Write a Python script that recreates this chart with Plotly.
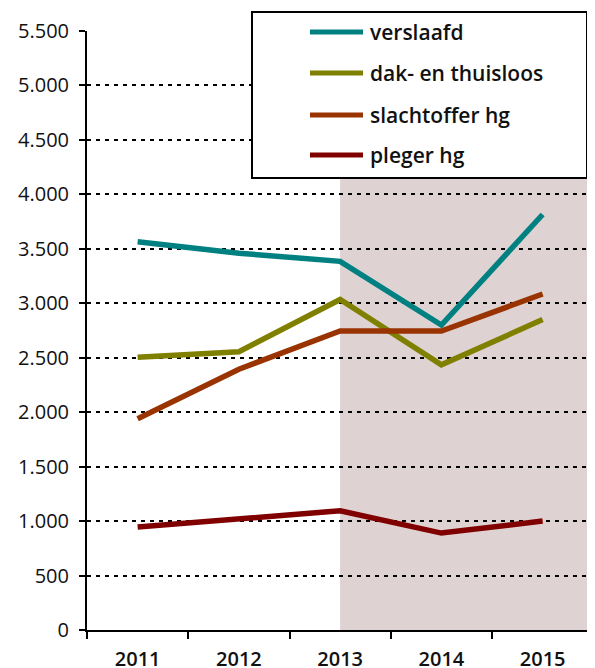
import plotly.graph_objects as go

years = ["2011", "2012", "2013", "2014", "2015"]
verslaafd = [3565, 3460, 3385, 2800, 3815]
dak_thuisloos = [2505, 2555, 3035, 2435, 2850]
slachtoffer_hg = [1940, 2395, 2745, 2745, 3085]
pleger_hg = [945, 1015, 1095, 890, 1000]

series = [
    ("verslaafd", verslaafd, "#008080"),
    ("dak- en thuisloos", dak_thuisloos, "#808000"),
    ("slachtoffer hg", slachtoffer_hg, "#993300"),
    ("pleger hg", pleger_hg, "#800000"),
]

# page has an 8px body margin, so the figure is laid out 8px in from the corner
OFF = 8
FW, FH = 595 - 2 * OFF, 668 - OFF
L, T, H = 87 - OFF, 31 - OFF, 599
W = FW - L
px = lambda x: (x - OFF - L) / W
py = lambda y: (T + H - (y - OFF)) / H

fig = go.Figure()
for name, vals, color in series:
    fig.add_trace(go.Scatter(x=years, y=vals, mode="lines", name=name,
                             showlegend=False,
                             line=dict(color=color, width=5.5)))

# shaded period from 2013 onward
fig.add_shape(type="rect", xref="x", yref="paper", x0=2, x1=4.6, y0=0, y1=1,
              fillcolor="#dfd2d2", line_width=0, layer="below")

# legend, drawn by hand so the swatches get the long line of the original
fig.add_shape(type="rect", xref="paper", yref="paper",
              x0=px(252), x1=1.0, y0=py(178), y1=py(12),
              fillcolor="white", line=dict(color="black", width=2), layer="above")
rows = [32, 73, 115, 155]
for (name, vals, color), yy in zip(series, rows):
    fig.add_shape(type="line", xref="paper", yref="paper",
                  x0=px(310), x1=px(363), y0=py(yy), y1=py(yy),
                  line=dict(color=color, width=5), layer="above")
    fig.add_annotation(x=px(368), y=py(yy), xref="paper", yref="paper",
                       text=name, showarrow=False, xanchor="left", yanchor="middle",
                       font=dict(size=21, weight=600, color="#111111"))

fig.update_layout(
    width=FW, height=FH,
    margin=dict(l=L, r=0, t=T, b=FH - T - H),
    plot_bgcolor="white", paper_bgcolor="white",
    separators=",.",
    font=dict(family="Open Sans", size=18, color="#111111"),
    showlegend=False,
)
fig.update_xaxes(type="category", range=[-0.5, -0.5 + W / 101.25], showline=True,
                 automargin=False, ticklabelstandoff=10,
                 linecolor="black", linewidth=2, ticks="outside", tickson="boundaries",
                 ticklen=7, tickwidth=2, tickcolor="black", showgrid=False,
                 tickfont=dict(size=20, weight=600))
fig.update_yaxes(range=[0, 5500], dtick=500, tickformat=",", showline=True,
                 automargin=False, ticklabelstandoff=6,
                 linecolor="black", linewidth=2, ticks="outside", ticklen=6,
                 tickwidth=2, tickcolor="black", showgrid=True, gridcolor="black",
                 gridwidth=1.5, griddash="4px,5px", zeroline=False,
                 tickfont=dict(size=20))

fig.write_html("out.html")
